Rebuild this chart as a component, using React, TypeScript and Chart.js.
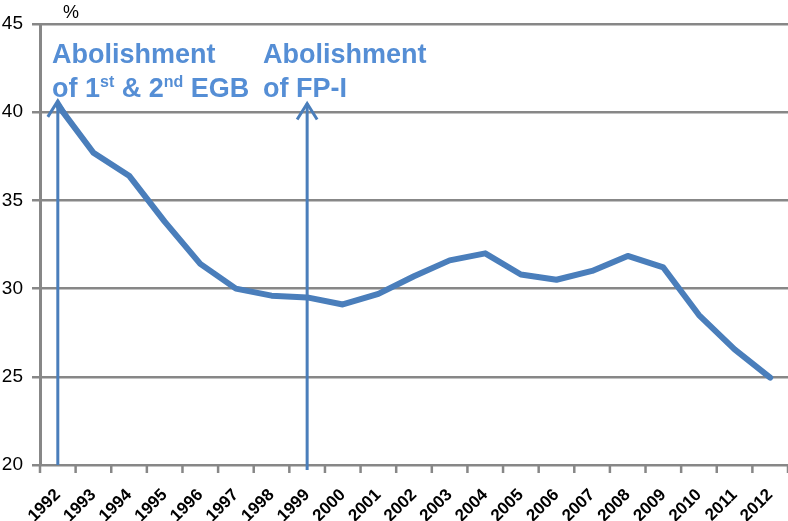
import React, { useEffect, useRef } from "react";
import { Chart, registerables } from "chart.js";

Chart.register(...registerables);

const years: string[] = [
  "1992", "1993", "1994", "1995", "1996", "1997", "1998", "1999", "2000", "2001",
  "2002", "2003", "2004", "2005", "2006", "2007", "2008", "2009", "2010", "2011", "2012",
];
const shares: number[] = [
  40.4, 37.7, 36.4, 33.8, 31.4, 30.0, 29.6, 29.5, 29.1, 29.7,
  30.7, 31.6, 32.0, 30.8, 30.5, 31.0, 31.85, 31.2, 28.5, 26.55, 24.95,
];
const yMin = 20;
const yMax = 45;
const yStep = 5;
const arrowYears: string[] = ["1992", "1999"];
const arrowTips: number[] = [40.7, 40.55];

const LINE = "#4a7ebb";
const TEXT = "#558ed5";
const GRID = "#878787";

const annotationPlugin = {
  id: "annotations",
  beforeDatasetsDraw(chart: any) {
    // x-axis tick marks at category boundaries
    const { ctx, scales } = chart;
    const xs = scales.x;
    const ys = scales.y;
    const y0 = ys.getPixelForValue(yMin);
    const half = (xs.getPixelForValue(1) - xs.getPixelForValue(0)) / 2;
    ctx.save();
    ctx.strokeStyle = GRID;
    ctx.lineWidth = 2.5;
    for (let i = 0; i <= years.length; i++) {
      const x = i < years.length ? xs.getPixelForValue(i) - half : xs.getPixelForValue(i - 1) + half;
      ctx.beginPath();
      ctx.moveTo(x, y0);
      ctx.lineTo(x, y0 + 8);
      ctx.stroke();
    }
    ctx.restore();
  },
  afterDatasetsDraw(chart: any) {
    const { ctx, scales } = chart;
    const xs = scales.x;
    const ys = scales.y;
    ctx.save();
    arrowYears.forEach((yr, i) => {
      const x = xs.getPixelForValue(years.indexOf(yr));
      const yBottom = ys.getPixelForValue(yMin) + (i === 1 ? 5 : 0);
      const yTop = ys.getPixelForValue(arrowTips[i]);
      ctx.strokeStyle = LINE;
      ctx.lineWidth = 3;
      ctx.lineCap = "butt";
      ctx.beginPath();
      ctx.moveTo(x, yBottom);
      ctx.lineTo(x, yTop + 1);
      ctx.stroke();
      ctx.lineJoin = "miter";
      ctx.beginPath();
      ctx.moveTo(x - 10, yTop + 17);
      ctx.lineTo(x, yTop + 1);
      ctx.lineTo(x + 10, yTop + 17);
      ctx.stroke();
    });
    ctx.fillStyle = "#000";
    ctx.font = "18px 'Liberation Sans', Arial, sans-serif";
    ctx.textBaseline = "alphabetic";
    ctx.textAlign = "left";
    ctx.fillText("%", 63, 18);

    const big = "bold 27px 'Liberation Sans', Arial, sans-serif";
    const sup = "bold 16px 'Liberation Sans', Arial, sans-serif";
    ctx.fillStyle = TEXT;
    const drawRuns = (x: number, y: number, runs: [string, boolean][]) => {
      let cx = x;
      runs.forEach(([t, s]) => {
        ctx.font = s ? sup : big;
        ctx.fillText(t, cx, s ? y - 10 : y);
        cx += ctx.measureText(t).width;
      });
    };
    drawRuns(52, 63, [["Abolishment", false]]);
    drawRuns(52, 97, [["of 1", false], ["st", true], [" & 2", false], ["nd", true], [" EGB", false]]);
    drawRuns(263, 63, [["Abolishment", false]]);
    drawRuns(263, 97, [["of FP-I", false]]);
    ctx.restore();
  },
};

export default function App() {
  const ref = useRef<HTMLCanvasElement | null>(null);
  useEffect(() => {
    document.body.style.margin = "0";
    if (!ref.current) return;
    const chart = new Chart(ref.current, {
      type: "line",
      data: {
        labels: years,
        datasets: [
          {
            data: shares,
            borderColor: LINE,
            borderWidth: 6,
            pointRadius: 0,
            tension: 0,
            fill: false,
            borderJoinStyle: "round",
            borderCapStyle: "round",
          },
        ],
      },
      options: {
        animation: false,
        responsive: true,
        maintainAspectRatio: false,
        layout: { padding: { top: 24, right: 0, left: 0, bottom: 0 } },
        plugins: { legend: { display: false }, tooltip: { enabled: false } },
        scales: {
          x: {
            type: "category",
            offset: true,
            grid: { display: false, drawTicks: false, tickLength: 8 },
            border: { display: false },
            ticks: {
              minRotation: 45,
              maxRotation: 45,
              autoSkip: false,
              color: "#000",
              padding: 20,
              font: { family: "'Liberation Sans', Arial, sans-serif", size: 17, weight: "bold" },
            },
            afterFit: (s: any) => {
              s.height = 56;
              s.paddingLeft = 0;
              s.paddingRight = 0;
            },
          },
          y: {
            min: yMin,
            max: yMax,
            ticks: {
              stepSize: yStep,
              color: "#000",
              padding: 9,
              font: { family: "'Liberation Sans', Arial, sans-serif", size: 19 },
            },
            grid: { color: GRID, lineWidth: 2.5, tickLength: 8 },
            border: { display: true, color: GRID, width: 3 },
            afterFit: (s: any) => {
              s.width = 40;
            },
          },
        },
      },
      plugins: [annotationPlugin],
    } as any);
    return () => chart.destroy();
  }, []);
  return (
    <div style={{ width: 788, height: 521, position: "relative" }}>
      <canvas ref={ref} />
    </div>
  );
}
